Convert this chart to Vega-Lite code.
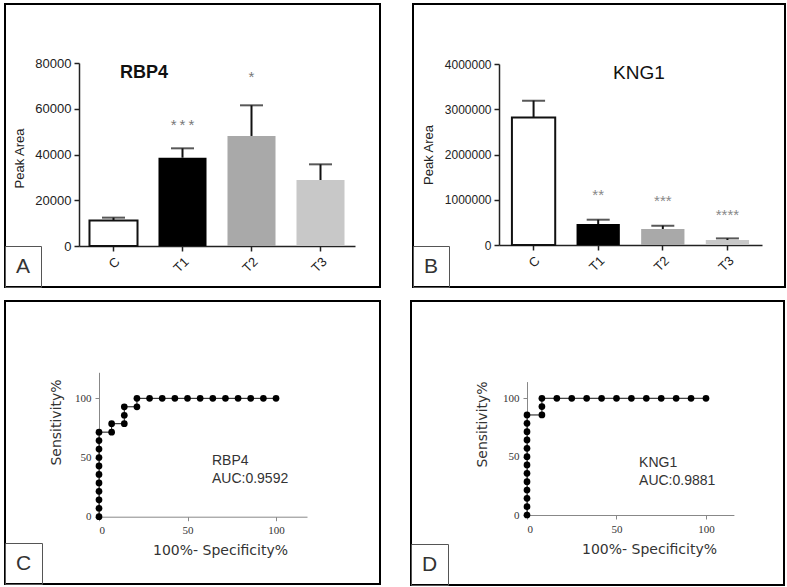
{
  "$schema": "https://vega.github.io/schema/vega-lite/v6.json",
  "background": "white",
  "padding": {"left": 3, "top": 3, "right": 0, "bottom": 0},
  "config": {
    "view": {"stroke": "black", "strokeWidth": 2},
    "font": "Liberation Sans",
    "axis": {"grid": false, "labelFont": "Liberation Sans", "titleFont": "Liberation Sans", "titleFontWeight": "normal", "labelColor": "#222", "titleColor": "#222", "domainColor": "#222", "tickColor": "#222"},
    "legend": {"orient": "bottom-left", "offset": 0, "padding": 10, "strokeColor": "#555", "strokeWidth": 1, "labelFontSize": 21, "labelFont": "Liberation Sans", "labelColor": "#333", "symbolSize": 0, "symbolStrokeWidth": 0, "symbolOpacity": 0, "symbolOffset": 0, "labelOffset": -20}
  },
  "spacing": 11,
  "resolve": {"scale": {"opacity": "independent"}, "legend": {"opacity": "independent"}},
  "vconcat": [
    {
      "spacing": 30,
      "resolve": {"scale": {"opacity": "independent"}, "legend": {"opacity": "independent"}},
      "hconcat": [
        {
          "width": 375,
          "height": 283,
          "data": {"values": [
            {"panel": "A", "group": "C", "mean": 11200, "upper": 12400},
            {"panel": "A", "group": "T1", "mean": 38600, "upper": 42700},
            {"panel": "A", "group": "T2", "mean": 48100, "upper": 61500},
            {"panel": "A", "group": "T3", "mean": 28850, "upper": 35700}
          ]},
          "layer": [
            {
              "mark": {"type": "bar"},
              "encoding": {
                "x": {"field": "group", "type": "nominal", "sort": null,
                  "scale": {"domain": ["C", "T1", "T2", "T3"], "range": [74, 350], "paddingInner": 0.304, "paddingOuter": 0.152},
                  "axis": {"title": null, "labelAngle": -45, "labelFontSize": 13, "tickSize": 5, "domainWidth": 1.5, "tickWidth": 1.5, "offset": -41, "labelPadding": 4}},
                "y": {"field": "mean", "type": "quantitative", "title": "Peak Area",
                  "scale": {"domain": [0, 80000], "range": [242, 59], "nice": false},
                  "axis": {"offset": -74, "values": [0, 20000, 40000, 60000, 80000], "format": "d", "labelFontSize": 13, "tickSize": 5, "domainWidth": 1.5, "tickWidth": 1.5, "titleFontSize": 13, "titlePadding": 8, "labelPadding": 3, "titleY": 154}},
                "fill": {"field": "group", "type": "nominal", "scale": {"domain": ["C", "T1", "T2", "T3"], "range": ["white", "black", "#a9a9a9", "#c8c8c8"]}, "legend": null},
                "stroke": {"field": "group", "type": "nominal", "scale": {"domain": ["C", "T1", "T2", "T3"], "range": ["#111", "#111", "#a9a9a9", "#c8c8c8"]}, "legend": null},
                "strokeWidth": {"condition": {"test": "datum.group === 'C'", "value": 2}, "value": 0},
                "opacity": {"field": "panel", "type": "ordinal", "scale": {"range": [1, 1]}, "legend": {"title": null, "symbolSize": 0, "symbolStrokeWidth": 0, "symbolOffset": 0, "labelOffset": -20}}
              }
            },
            {
              "mark": {"type": "rule", "color": "#111", "strokeWidth": 2},
              "encoding": {
                "x": {"field": "group", "type": "nominal", "sort": null},
                "y": {"field": "mean", "type": "quantitative", "title": "Peak Area"},
                "y2": {"field": "upper"}
              }
            },
            {
              "mark": {"type": "tick", "color": "#111", "thickness": 2, "size": 23, "orient": "horizontal"},
              "encoding": {
                "x": {"field": "group", "type": "nominal", "sort": null},
                "y": {"field": "upper", "type": "quantitative", "title": "Peak Area"}
              }
            },
            {
              "data": {"values": [
                {"group": "T1", "stars": "*\u2009*\u2009*", "level": 54500},
                {"group": "T2", "stars": "*", "level": 75500}
              ]},
              "mark": {"type": "text", "fontSize": 15, "color": "#777", "baseline": "middle", "dy": 3.5},
              "encoding": {
                "x": {"field": "group", "type": "nominal", "sort": null},
                "y": {"field": "level", "type": "quantitative", "title": "Peak Area"},
                "text": {"field": "stars"}
              }
            },
            {
              "data": {"values": [{"name": "RBP4"}]},
              "mark": {"type": "text", "fontSize": 18, "fontWeight": "bold", "color": "#111", "baseline": "middle", "dx": -38.5},
              "encoding": {
                "x": {"datum": "T1"},
                "y": {"datum": 75600},
                "text": {"field": "name"}
              }
            }
          ]
        },
        {
          "width": 372,
          "height": 283,
          "data": {"values": [
            {"panel": "B", "group": "C", "mean": 2820000, "upper": 3190000},
            {"panel": "B", "group": "T1", "mean": 464000, "upper": 559000},
            {"panel": "B", "group": "T2", "mean": 354000, "upper": 427000},
            {"panel": "B", "group": "T3", "mean": 110000, "upper": 146000}
          ]},
          "layer": [
            {
              "mark": {"type": "bar"},
              "encoding": {
                "x": {"field": "group", "type": "nominal", "sort": null,
                  "scale": {"domain": ["C", "T1", "T2", "T3"], "range": [86, 349], "paddingInner": 0.33, "paddingOuter": 0.2},
                  "axis": {"title": null, "labelAngle": -45, "labelFontSize": 13, "tickSize": 5, "domainWidth": 1.5, "tickWidth": 1.5, "offset": -42, "labelPadding": 4}},
                "y": {"field": "mean", "type": "quantitative", "title": "Peak Area",
                  "scale": {"domain": [0, 4000000], "range": [241, 60], "nice": false},
                  "axis": {"offset": -86, "values": [0, 1000000, 2000000, 3000000, 4000000], "format": "d", "labelFontSize": 12, "tickSize": 5, "domainWidth": 1.5, "tickWidth": 1.5, "titleFontSize": 13, "titlePadding": 9, "labelPadding": 3}},
                "fill": {"field": "group", "type": "nominal", "scale": {"domain": ["C", "T1", "T2", "T3"], "range": ["white", "black", "#a0a0a0", "#c8c8c8"]}, "legend": null},
                "stroke": {"field": "group", "type": "nominal", "scale": {"domain": ["C", "T1", "T2", "T3"], "range": ["#111", "#111", "#a0a0a0", "#c8c8c8"]}, "legend": null},
                "strokeWidth": {"condition": {"test": "datum.group === 'C'", "value": 2}, "value": 0},
                "opacity": {"field": "panel", "type": "ordinal", "scale": {"range": [1, 1]}, "legend": {"title": null, "symbolSize": 0, "symbolStrokeWidth": 0, "symbolOffset": 0, "labelOffset": -20}}
              }
            },
            {
              "mark": {"type": "rule", "color": "#111", "strokeWidth": 2},
              "encoding": {
                "x": {"field": "group", "type": "nominal", "sort": null},
                "y": {"field": "mean", "type": "quantitative", "title": "Peak Area"},
                "y2": {"field": "upper"}
              }
            },
            {
              "mark": {"type": "tick", "color": "#111", "thickness": 2, "size": 23, "orient": "horizontal"},
              "encoding": {
                "x": {"field": "group", "type": "nominal", "sort": null},
                "y": {"field": "upper", "type": "quantitative", "title": "Peak Area"}
              }
            },
            {
              "data": {"values": [
                {"group": "T1", "stars": "**", "level": 1176000},
                {"group": "T2", "stars": "***", "level": 1056000},
                {"group": "T3", "stars": "****", "level": 734000}
              ]},
              "mark": {"type": "text", "fontSize": 15, "color": "#888", "baseline": "middle", "dy": 3.5},
              "encoding": {
                "x": {"field": "group", "type": "nominal", "sort": null},
                "y": {"field": "level", "type": "quantitative", "title": "Peak Area"},
                "text": {"field": "stars"}
              }
            },
            {
              "data": {"values": [{"name": "KNG1"}]},
              "mark": {"type": "text", "fontSize": 19, "fontWeight": "normal", "color": "#111", "baseline": "middle", "dx": 40.8},
              "encoding": {
                "x": {"datum": "T1"},
                "y": {"datum": 3797000},
                "text": {"field": "name"}
              }
            }
          ]
        }
      ]
    },
    {
      "spacing": 28,
      "resolve": {"scale": {"opacity": "independent"}, "legend": {"opacity": "independent"}},
      "hconcat": [
        {
          "width": 375,
          "height": 283,
          "data": {"values": [
            {"panel": "C", "step": 1, "fpr": 0, "tpr": 0},
            {"panel": "C", "step": 2, "fpr": 0, "tpr": 7.14},
            {"panel": "C", "step": 3, "fpr": 0, "tpr": 14.29},
            {"panel": "C", "step": 4, "fpr": 0, "tpr": 21.43},
            {"panel": "C", "step": 5, "fpr": 0, "tpr": 28.57},
            {"panel": "C", "step": 6, "fpr": 0, "tpr": 35.71},
            {"panel": "C", "step": 7, "fpr": 0, "tpr": 42.86},
            {"panel": "C", "step": 8, "fpr": 0, "tpr": 50},
            {"panel": "C", "step": 9, "fpr": 0, "tpr": 57.14},
            {"panel": "C", "step": 10, "fpr": 0, "tpr": 64.29},
            {"panel": "C", "step": 11, "fpr": 0, "tpr": 71.43},
            {"panel": "C", "step": 12, "fpr": 7.14, "tpr": 71.43},
            {"panel": "C", "step": 13, "fpr": 7.14, "tpr": 78.57},
            {"panel": "C", "step": 14, "fpr": 14.29, "tpr": 78.57},
            {"panel": "C", "step": 15, "fpr": 14.29, "tpr": 85.71},
            {"panel": "C", "step": 16, "fpr": 14.29, "tpr": 92.86},
            {"panel": "C", "step": 17, "fpr": 21.43, "tpr": 92.86},
            {"panel": "C", "step": 18, "fpr": 21.43, "tpr": 100},
            {"panel": "C", "step": 19, "fpr": 28.57, "tpr": 100},
            {"panel": "C", "step": 20, "fpr": 35.71, "tpr": 100},
            {"panel": "C", "step": 21, "fpr": 42.86, "tpr": 100},
            {"panel": "C", "step": 22, "fpr": 50, "tpr": 100},
            {"panel": "C", "step": 23, "fpr": 57.14, "tpr": 100},
            {"panel": "C", "step": 24, "fpr": 64.29, "tpr": 100},
            {"panel": "C", "step": 25, "fpr": 71.43, "tpr": 100},
            {"panel": "C", "step": 26, "fpr": 78.57, "tpr": 100},
            {"panel": "C", "step": 27, "fpr": 85.71, "tpr": 100},
            {"panel": "C", "step": 28, "fpr": 92.86, "tpr": 100},
            {"panel": "C", "step": 29, "fpr": 100, "tpr": 100}
          ]},
          "layer": [
            {
              "mark": {"type": "line", "color": "#111", "strokeWidth": 1},
              "encoding": {
                "x": {"field": "fpr", "type": "quantitative", "title": "100%- Specificity%",
                  "scale": {"domain": [0, 117.5], "range": [94, 302], "nice": false, "zero": false},
                  "axis": {"offset": -67.3, "values": [0, 50, 100], "labelFont": "Liberation Serif", "labelFontSize": 11, "labelColor": "#333", "tickSize": 4, "domainColor": "#888", "tickColor": "#888", "titleFont": "DejaVu Sans", "titleFontSize": 14, "titleColor": "#333", "titleX": 215, "titlePadding": 8, "labelPadding": 4}},
                "y": {"field": "tpr", "type": "quantitative", "title": "Sensitivity%",
                  "scale": {"domain": [0, 122], "range": [215.7, 71.3], "nice": false, "zero": false},
                  "axis": {"offset": -94, "values": [0, 50, 100], "labelFont": "Liberation Serif", "labelFontSize": 11, "labelColor": "#333", "tickSize": 4, "domainColor": "#888", "tickColor": "#888", "titleFont": "DejaVu Sans", "titleFontSize": 14, "titleColor": "#333", "titleY": 121, "titlePadding": 11, "labelPadding": 4}},
                "order": {"field": "step", "type": "quantitative"}
              }
            },
            {
              "mark": {"type": "point", "filled": true, "color": "#000", "size": 45},
              "encoding": {
                "x": {"field": "fpr", "type": "quantitative", "title": "100%- Specificity%"},
                "y": {"field": "tpr", "type": "quantitative", "title": "Sensitivity%"},
                "opacity": {"field": "panel", "type": "ordinal", "scale": {"range": [1, 1]}, "legend": {"title": null, "symbolSize": 0, "symbolStrokeWidth": 0, "symbolOffset": 0, "labelOffset": -20}}
              }
            },
            {
              "data": {"values": [{"name": "RBP4", "auc": "AUC:0.9592"}]},
              "mark": {"type": "text", "align": "left", "baseline": "middle", "fontSize": 14, "lineHeight": 18, "color": "#333"},
              "encoding": {
                "x": {"datum": 63.8},
                "y": {"datum": 47.3},
                "text": {"value": ["RBP4", "AUC:0.9592"]}
              }
            }
          ]
        },
        {
          "width": 373,
          "height": 284,
          "data": {"values": [
            {"panel": "D", "step": 1, "fpr": 0, "tpr": 0},
            {"panel": "D", "step": 2, "fpr": 0, "tpr": 7.14},
            {"panel": "D", "step": 3, "fpr": 0, "tpr": 14.29},
            {"panel": "D", "step": 4, "fpr": 0, "tpr": 21.43},
            {"panel": "D", "step": 5, "fpr": 0, "tpr": 28.57},
            {"panel": "D", "step": 6, "fpr": 0, "tpr": 35.71},
            {"panel": "D", "step": 7, "fpr": 0, "tpr": 42.86},
            {"panel": "D", "step": 8, "fpr": 0, "tpr": 50},
            {"panel": "D", "step": 9, "fpr": 0, "tpr": 57.14},
            {"panel": "D", "step": 10, "fpr": 0, "tpr": 64.29},
            {"panel": "D", "step": 11, "fpr": 0, "tpr": 71.43},
            {"panel": "D", "step": 12, "fpr": 0, "tpr": 78.57},
            {"panel": "D", "step": 13, "fpr": 0, "tpr": 85.71},
            {"panel": "D", "step": 14, "fpr": 8.33, "tpr": 85.71},
            {"panel": "D", "step": 15, "fpr": 8.33, "tpr": 92.86},
            {"panel": "D", "step": 16, "fpr": 8.33, "tpr": 100},
            {"panel": "D", "step": 17, "fpr": 16.67, "tpr": 100},
            {"panel": "D", "step": 18, "fpr": 25, "tpr": 100},
            {"panel": "D", "step": 19, "fpr": 33.33, "tpr": 100},
            {"panel": "D", "step": 20, "fpr": 41.67, "tpr": 100},
            {"panel": "D", "step": 21, "fpr": 50, "tpr": 100},
            {"panel": "D", "step": 22, "fpr": 58.33, "tpr": 100},
            {"panel": "D", "step": 23, "fpr": 66.67, "tpr": 100},
            {"panel": "D", "step": 24, "fpr": 75, "tpr": 100},
            {"panel": "D", "step": 25, "fpr": 83.33, "tpr": 100},
            {"panel": "D", "step": 26, "fpr": 91.67, "tpr": 100},
            {"panel": "D", "step": 27, "fpr": 100, "tpr": 100}
          ]},
          "layer": [
            {
              "mark": {"type": "line", "color": "#111", "strokeWidth": 1},
              "encoding": {
                "x": {"field": "fpr", "type": "quantitative", "title": "100%- Specificity%",
                  "scale": {"domain": [0, 115.6], "range": [116, 322.9], "nice": false, "zero": false},
                  "axis": {"offset": -70, "values": [0, 50, 100], "labelFont": "Liberation Serif", "labelFontSize": 11, "labelColor": "#333", "tickSize": 4, "domainColor": "#888", "tickColor": "#888", "titleFont": "DejaVu Sans", "titleFontSize": 14, "titleColor": "#333", "titleX": 238, "titlePadding": 8, "labelPadding": 4}},
                "y": {"field": "tpr", "type": "quantitative", "title": "Sensitivity%",
                  "scale": {"domain": [0, 114.3], "range": [214, 80.6], "nice": false, "zero": false},
                  "axis": {"offset": -116, "values": [0, 50, 100], "labelFont": "Liberation Serif", "labelFontSize": 11, "labelColor": "#333", "tickSize": 4, "domainColor": "#888", "tickColor": "#888", "titleFont": "DejaVu Sans", "titleFontSize": 14, "titleColor": "#333", "titleY": 123, "titlePadding": 13, "labelPadding": 4}},
                "order": {"field": "step", "type": "quantitative"}
              }
            },
            {
              "mark": {"type": "point", "filled": true, "color": "#000", "size": 45},
              "encoding": {
                "x": {"field": "fpr", "type": "quantitative", "title": "100%- Specificity%"},
                "y": {"field": "tpr", "type": "quantitative", "title": "Sensitivity%"},
                "opacity": {"field": "panel", "type": "ordinal", "scale": {"range": [1, 1]}, "legend": {"title": null, "symbolSize": 0, "symbolStrokeWidth": 0, "symbolOffset": 0, "labelOffset": -20}}
              }
            },
            {
              "data": {"values": [{"name": "KNG1", "auc": "AUC:0.9881"}]},
              "mark": {"type": "text", "align": "left", "baseline": "middle", "fontSize": 14, "lineHeight": 18, "color": "#333"},
              "encoding": {
                "x": {"datum": 62.6},
                "y": {"datum": 44.8},
                "text": {"value": ["KNG1", "AUC:0.9881"]}
              }
            }
          ]
        }
      ]
    }
  ]
}
